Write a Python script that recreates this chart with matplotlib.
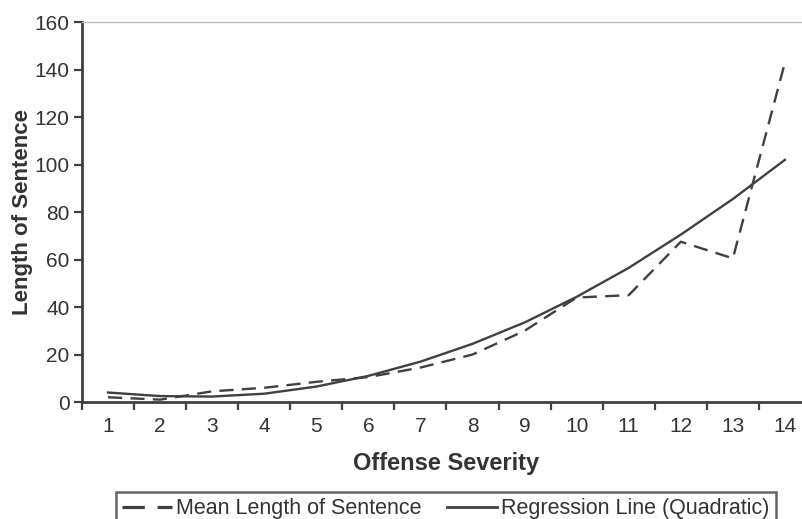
import matplotlib
matplotlib.use("Agg")
import matplotlib.pyplot as plt
from matplotlib.ticker import FixedLocator, NullFormatter

plt.rcParams['font.family'] = ['Liberation Sans', 'DejaVu Sans']

severity = list(range(1, 15))
mean_length = [2, 1, 4.5, 6, 8.5, 10.5, 14.5, 20, 30, 44, 45, 67.5, 60.5, 143]
regression = [4, 2.5, 2.3, 3.5, 6.5, 11, 17, 24.5, 33.5, 44.3, 56.5, 70.5, 85.5, 102]
y_ticks = [0, 20, 40, 60, 80, 100, 120, 140, 160]

ink = '#404040'
text_col = '#333333'

fig = plt.figure(figsize=(8.02, 5.19), dpi=100)
ax = fig.add_axes([0.1022, 0.2254, 0.909, 0.732])

ax.plot(severity, mean_length, color=ink, lw=1.7, dashes=(6, 3.5),
        label='Mean Length of Sentence')
ax.plot(severity, regression, color=ink, lw=1.7,
        label='Regression Line (Quadratic)')

ax.set_xlim(0.5, 14.5)
ax.set_ylim(0, 160)
ax.set_yticks(y_ticks)

# ticks between categories, labels centred on categories
ax.xaxis.set_major_locator(FixedLocator([i + 0.5 for i in range(0, 15)]))
ax.xaxis.set_major_formatter(NullFormatter())
ax.xaxis.set_minor_locator(FixedLocator(severity))
ax.set_xticklabels([str(s) for s in severity], minor=True)
ax.tick_params(axis='x', which='major', length=6, width=1.6, color=ink, direction='out')
ax.tick_params(axis='x', which='minor', length=0, pad=11, labelsize=15, labelcolor=text_col)
ax.tick_params(axis='y', length=6, width=1.6, color=ink, direction='out',
               labelsize=15, labelcolor=text_col, pad=3)

for side in ['left', 'bottom']:
    ax.spines[side].set_color(ink)
    ax.spines[side].set_linewidth(2)
ax.spines['top'].set_color('#bbbbbb')
ax.spines['top'].set_linewidth(1)
ax.spines['right'].set_visible(False)

ax.set_xlabel('Offense Severity', fontsize=17, fontweight='bold', color=text_col,
              labelpad=11)
ax.set_ylabel('Length of Sentence', fontsize=16, fontweight='bold', color=text_col,
              labelpad=1)

leg = fig.legend(loc='upper center', bbox_to_anchor=(0.556, 0.052), ncol=2,
                 fontsize=15.5, frameon=True, fancybox=False, handlelength=2.3,
                 handletextpad=0.2, columnspacing=1.2, borderpad=0.3,
                 borderaxespad=0, labelcolor=text_col)
leg.get_frame().set_edgecolor(ink)
leg.get_frame().set_linewidth(1.8)
# longer dashes in the legend key, like the original
leg.get_lines()[0].set_linewidth(2.3)
leg.get_lines()[0].set_dashes((7, 4))
leg.get_lines()[1].set_linewidth(2)

fig.savefig('out.png', dpi=100)
